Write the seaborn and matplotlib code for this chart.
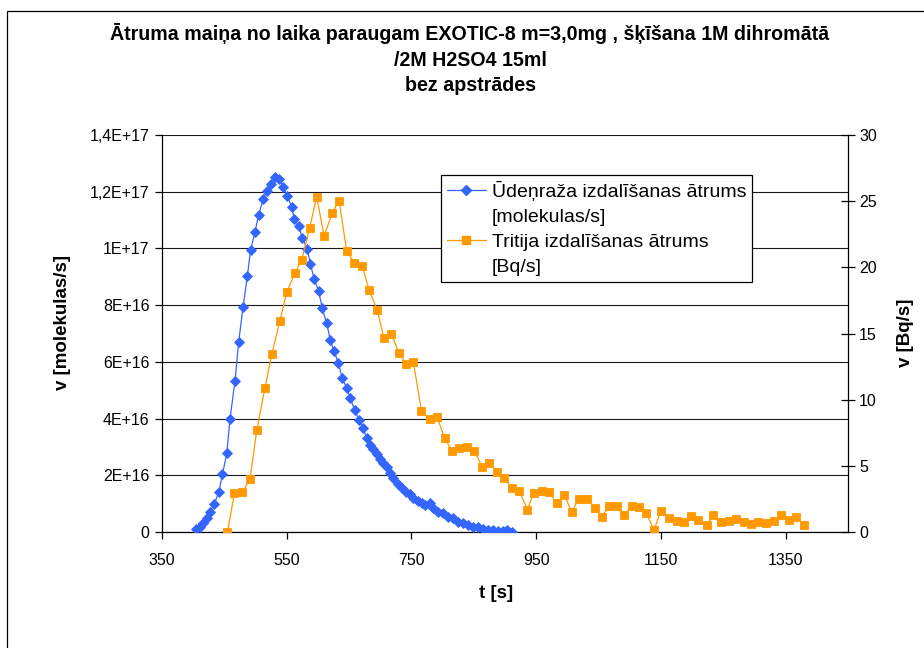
import matplotlib
matplotlib.use("Agg")
import matplotlib.pyplot as plt
from matplotlib.lines import Line2D
from matplotlib.patches import Rectangle
import seaborn as sns

# Hydrogen release rate, molecules/s (values given in units of 1e16)
h_time = [404, 411, 416, 422, 427, 434, 441, 447, 454, 459,
          467, 473, 480, 487, 492, 499, 505, 512, 518, 524,
          531, 537, 544, 551, 558, 562, 569, 575, 583, 588,
          594, 601, 607, 614, 620, 626, 633, 639, 646, 652,
          659, 666, 672, 678, 684, 688, 695, 700, 705, 710,
          715, 720, 728, 735, 742, 747, 753, 760, 767, 772,
          779, 785, 792, 800, 808, 816, 824, 832, 840, 848,
          856, 864, 872, 880, 888, 896, 904, 912]
h_rate_e16 = [0.10, 0.19, 0.33, 0.48, 0.72, 0.99, 1.41, 2.03, 2.80, 3.98,
              5.32, 6.71, 7.94, 9.04, 9.94, 10.57, 11.19, 11.73, 12.03, 12.27,
              12.53, 12.45, 12.18, 11.85, 11.47, 11.05, 10.80, 10.38, 9.97, 9.46,
              8.91, 8.51, 7.89, 7.36, 6.76, 6.37, 5.95, 5.42, 5.09, 4.71,
              4.30, 3.95, 3.66, 3.33, 3.07, 2.92, 2.75, 2.56, 2.43, 2.30,
              2.07, 1.89, 1.69, 1.54, 1.42, 1.33, 1.19, 1.10, 1.01, 0.95,
              1.01, 0.84, 0.72, 0.66, 0.52, 0.48, 0.36, 0.33, 0.25, 0.19,
              0.17, 0.11, 0.07, 0.07, 0.05, 0.05, 0.07, 0.01]

# Tritium release rate, Bq/s
t_time = [455, 466, 479, 491, 502, 515, 526, 539, 550, 563,
          574, 587, 598, 610, 623, 634, 646, 658, 671, 682,
          695, 706, 718, 730, 742, 753, 766, 779, 791, 803,
          815, 827, 839, 851, 863, 875, 887, 899, 911, 923,
          936, 946, 959, 971, 983, 995, 1007, 1018, 1031, 1044,
          1055, 1067, 1079, 1091, 1103, 1115, 1126, 1139, 1150, 1163,
          1175, 1187, 1199, 1210, 1224, 1234, 1247, 1259, 1271, 1283,
          1295, 1306, 1319, 1332, 1343, 1355, 1367, 1379]
t_rate = [0.0, 2.92, 3.00, 3.98, 7.71, 10.86, 13.43, 15.95, 18.12, 19.55,
          20.56, 23.0, 25.34, 22.37, 24.13, 25.04, 21.26, 20.36, 20.13, 18.29,
          16.78, 14.64, 14.97, 13.51, 12.70, 12.87, 9.17, 8.52, 8.72, 7.08,
          6.15, 6.37, 6.45, 6.15, 4.94, 5.24, 4.51, 4.06, 3.30, 3.08,
          1.69, 2.98, 3.12, 3.00, 2.17, 2.80, 1.53, 2.49, 2.49, 1.84,
          1.16, 1.99, 1.99, 1.26, 1.99, 1.87, 1.46, 0.15, 1.61, 1.08,
          0.85, 0.78, 1.18, 0.88, 0.53, 1.28, 0.73, 0.85, 0.98, 0.73,
          0.60, 0.78, 0.66, 0.85, 1.28, 0.91, 1.16, 0.53]

h_rate = [v * 1e16 for v in h_rate_e16]

x_ticks = [350, 550, 750, 950, 1150, 1350]
left_ticks = [0, 2e16, 4e16, 6e16, 8e16, 1e17, 1.2e17, 1.4e17]
left_tick_labels = ["0", "2E+16", "4E+16", "6E+16", "8E+16", "1E+17", "1,2E+17", "1,4E+17"]
right_ticks = [0, 5, 10, 15, 20, 25, 30]

title_text = ("Ātruma maiņa no laika paraugam EXOTIC-8 m=3,0mg , šķīšana 1M dihromātā\n"
              "/2M H2SO4 15ml\nbez apstrādes")
label_h = "Ūdeņraža izdalīšanas ātrums"
label_h2 = "[molekulas/s]"
label_t = "Tritija izdalīšanas ātrums"
label_t2 = "[Bq/s]"

BLUE = "#3366FF"
ORANGE = "#FF9900"
H_MS = 4.6
T_MS = 5.8

sns.set_theme(style="white")
plt.rcParams["font.family"] = ["Liberation Sans", "DejaVu Sans"]

W, H = 924, 648
fig = plt.figure(figsize=(W / 100, H / 100), dpi=100)
fig.patch.set_facecolor("white")

# plot area in pixel coordinates
px_l, px_r, px_t, px_b = 162, 848, 135, 532
ax = fig.add_axes([px_l / W, 1 - px_b / H, (px_r - px_l) / W, (px_b - px_t) / H])
ax2 = ax.twinx()

sns.lineplot(x=h_time, y=h_rate, ax=ax, color=BLUE, linewidth=0.9,
             marker="D", markersize=H_MS, markeredgecolor=BLUE, markeredgewidth=0.6,
             legend=False, zorder=3)
sns.lineplot(x=t_time, y=t_rate, ax=ax2, color=ORANGE, linewidth=0.9,
             marker="s", markersize=T_MS, markeredgecolor=ORANGE, markeredgewidth=0.6,
             legend=False, zorder=3)

ax.set_xlim(350, 1450)
ax.set_ylim(0, 1.4e17)
ax2.set_ylim(0, 30)

ax.set_xticks(x_ticks)
ax.set_xticklabels([str(v) for v in x_ticks])
ax.set_yticks(left_ticks)
ax.set_yticklabels(left_tick_labels)
ax2.set_yticks(right_ticks)
ax2.set_yticklabels([str(v) for v in right_ticks])

ax.yaxis.grid(True, color="#1a1a1a", linewidth=0.8)
ax.xaxis.grid(False)
ax.set_axisbelow(True)

for a in (ax, ax2):
    a.set_facecolor("none")
    a.spines["top"].set_visible(False)
    for s in ("left", "right", "bottom"):
        a.spines[s].set_color("black")
        a.spines[s].set_linewidth(0.9)
ax.spines["right"].set_visible(False)
ax2.spines["left"].set_visible(False)
ax2.spines["bottom"].set_visible(False)

tick_font = 11.5
ax.tick_params(axis="y", direction="out", length=5, width=0.9, color="black",
               labelsize=tick_font, labelcolor="black", pad=4, left=True)
ax.tick_params(axis="x", direction="out", length=5, width=0.9, color="black",
               labelsize=tick_font, labelcolor="black", pad=10, bottom=True)
ax2.tick_params(axis="y", direction="inout", length=10, width=0.9, color="black",
                labelsize=tick_font, labelcolor="black", pad=3, right=True)
ax.set_xlabel("")
ax.set_ylabel("")
ax2.set_ylabel("")

# axis titles
fig.text(496 / W, 1 - 593 / H, "t [s]", ha="center", va="center",
         fontsize=13.5, fontweight="bold", color="black")
fig.text(63 / W, 1 - 322 / H, "v [molekulas/s]", ha="center", va="center",
         rotation=90, fontsize=13.5, fontweight="bold", color="black")
fig.text(905 / W, 1 - 333 / H, "v [Bq/s]", ha="center", va="center",
         rotation=90, fontsize=13.5, fontweight="bold", color="black")

# chart title
fig.text(470 / W, 1 - 59 / H, title_text, ha="center", va="center",
         fontsize=14.1, fontweight="bold", color="black", linespacing=1.45)

# legend: first text line carries the marker, second line is a continuation
blank = Line2D([], [], color="none")
h_handle = Line2D([], [], color=BLUE, linewidth=0.9, marker="D", markersize=H_MS,
                  markeredgecolor=BLUE)
t_handle = Line2D([], [], color=ORANGE, linewidth=0.9, marker="s", markersize=T_MS,
                  markeredgecolor=ORANGE)
leg = ax2.legend([h_handle, blank, t_handle, blank],
                 [label_h, label_h2, label_t, label_t2],
                 loc="upper left", bbox_to_anchor=((441 - px_l) / (px_r - px_l),
                                                    (px_b - 175) / (px_b - px_t)),
                 bbox_transform=ax2.transAxes, frameon=True, fancybox=False,
                 framealpha=1, edgecolor="black", fontsize=14, handlelength=2.0,
                 handletextpad=0.3, borderpad=0.3, labelspacing=0.38,
                 borderaxespad=0)
leg.get_frame().set_linewidth(0.9)
for txt in leg.get_texts():
    txt.set_color("black")

# outer chart border
fig.patches.append(Rectangle((7 / W, -0.1), 1.2, 1 - 11 / H + 0.1,
                             transform=fig.transFigure, fill=False,
                             edgecolor="black", linewidth=0.9))

fig.savefig("out.png", dpi=100)
